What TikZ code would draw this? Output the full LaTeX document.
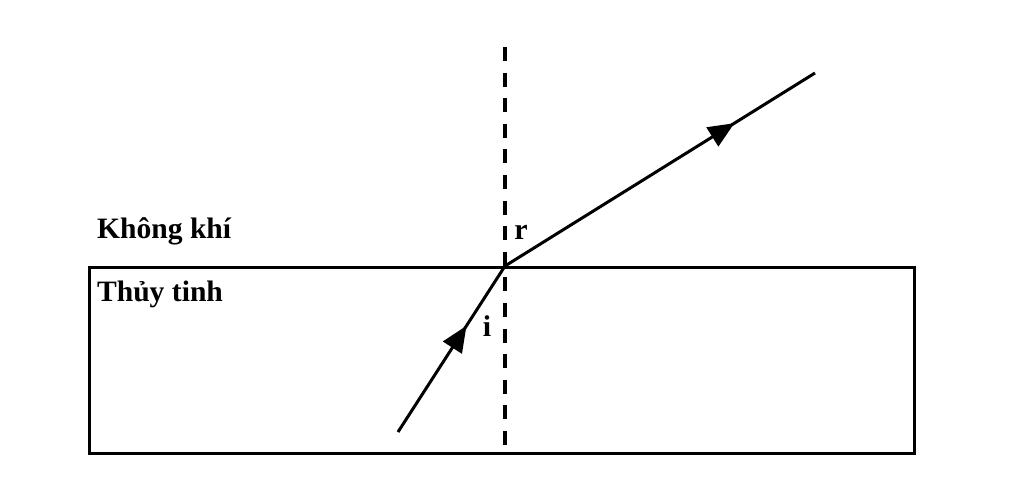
\documentclass[tikz,border=0pt]{standalone}
\usepackage{fontspec}
\setmainfont{Liberation Serif}
\usetikzlibrary{arrows.meta,decorations.markings}

\tikzset{
    ray/.style={line width=1.5pt},
    midarrow/.style={postaction={decorate},decoration={markings,
        mark=at position #1 with {\arrow{Triangle[length=13pt,width=11pt]}}}},
    medium/.style={anchor=west,font=\bfseries\fontsize{14.8}{18}\selectfont},
    angle label/.style={font=\bfseries\fontsize{15}{18}\selectfont}
}

\begin{document}
\begin{tikzpicture}[x=0.5pt,y=-0.5pt]
    \useasboundingbox (0,0) rectangle (1024,494);
    \draw[line width=1.5pt] (89,267) rectangle (914,453);
    \coordinate (O) at (505,266);
    \coordinate (S) at (398,432);
    \coordinate (E) at (815,73);
    \coordinate (NT) at (505,47);
    \coordinate (NB) at (505,447);
    \draw[line width=1.8pt,dash pattern=on 7pt off 5.8pt] (NT) -- (NB);
    \draw[ray,midarrow=0.64] (S) -- (O);
    \draw[ray,midarrow=0.74] (O) -- (E);
    \node[medium] at (90,231) (KK) {Không khí};
    \node[medium] at (90,294) (TT) {Thủy tinh};
    \node[angle label] at (521,232) (R) {r};
    \node[angle label] at (487,326) (I) {i};
\end{tikzpicture}
\end{document}
